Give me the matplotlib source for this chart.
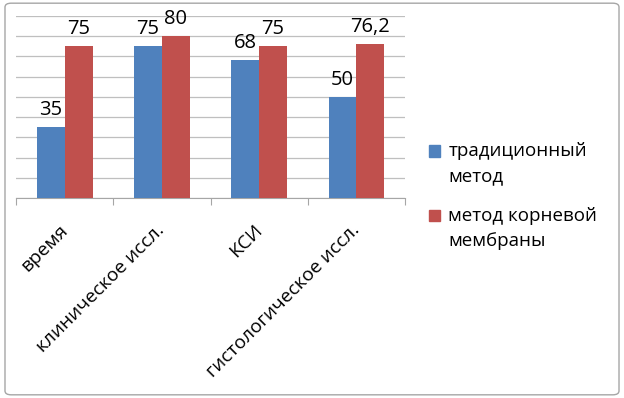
import matplotlib.pyplot as plt
import numpy as np
from matplotlib.patches import FancyBboxPatch, Patch, Rectangle
from matplotlib.legend_handler import HandlerPatch

categories = ["время", "клиническое иссл.", "КСИ", "гистологическое иссл."]
traditional = [35, 75, 68, 50]
root_membrane = [75, 80, 75, 76.2]
labels_trad = ["35", "75", "68", "50"]
labels_root = ["75", "80", "75", "76,2"]
series_names = ["традиционный\nметод", "метод корневой\nмембраны"]

blue = "#4F81BD"
red = "#C0504D"

plt.rcParams['font.family'] = ['Open Sans', 'DejaVu Sans']


# legend square sits next to the first line of a two-line label
def top_square(legend, orig_handle, xdescent, ydescent, width, height, fontsize):
    return Rectangle((-xdescent, -ydescent + 9.5), width, height)


fig = plt.figure(figsize=(6.24, 3.98), dpi=100)
fig.patches.append(FancyBboxPatch((0.008, 0.008), 0.984, 0.984, boxstyle="round,pad=0,rounding_size=0.01",
                                  transform=fig.transFigure, fill=False, edgecolor="#A6A6A6", linewidth=1))
ax = fig.add_axes([0.026, 0.5025, 0.623, 0.4575])

x = np.arange(len(categories))
w = 0.286
b1 = ax.bar(x - w / 2, traditional, w, color=blue, zorder=3)
b2 = ax.bar(x + w / 2, root_membrane, w, color=red, zorder=3)

# value labels above bars
for bars, labs in [(b1, labels_trad), (b2, labels_root)]:
    for bar, lab in zip(bars, labs):
        ax.annotate(lab, xy=(bar.get_x() + bar.get_width() / 2, bar.get_height()),
                    xytext=(0, 5), textcoords="offset points",
                    ha="center", va="bottom", fontsize=14.5)

ax.set_xlim(-0.5, len(categories) - 0.5)
ax.set_ylim(0, 90)
ax.set_yticks(np.arange(0, 91, 10))
ax.yaxis.grid(True, color="#BFBFBF", linewidth=0.9, zorder=0)
ax.tick_params(axis="y", left=False, labelleft=False)
for s in ["left", "right", "top"]:
    ax.spines[s].set_visible(False)
ax.spines["bottom"].set_color("#A6A6A6")

ax.set_xticks(np.arange(-0.5, len(categories), 1))
ax.set_xticklabels([])
ax.tick_params(axis="x", length=5, color="#A6A6A6")
for i, c in enumerate(categories):
    ax.annotate(c, xy=(i, 0), xycoords="data", xytext=(0, -21), textcoords="offset points",
                rotation=45, ha="right", va="center", rotation_mode="anchor", fontsize=13.8)

handles = [Patch(color=blue), Patch(color=red)]
leg = fig.legend(handles, series_names, loc="upper left", bbox_to_anchor=(0.66, 0.685),
                 frameon=False, fontsize=13.5, handlelength=0.6, handleheight=0.6,
                 handletextpad=0.45, labelspacing=1.15,
                 handler_map={Patch: HandlerPatch(patch_func=top_square)})
for t in leg.get_texts():
    t.set_linespacing(1.5)

fig.savefig("out.png", dpi=100)
